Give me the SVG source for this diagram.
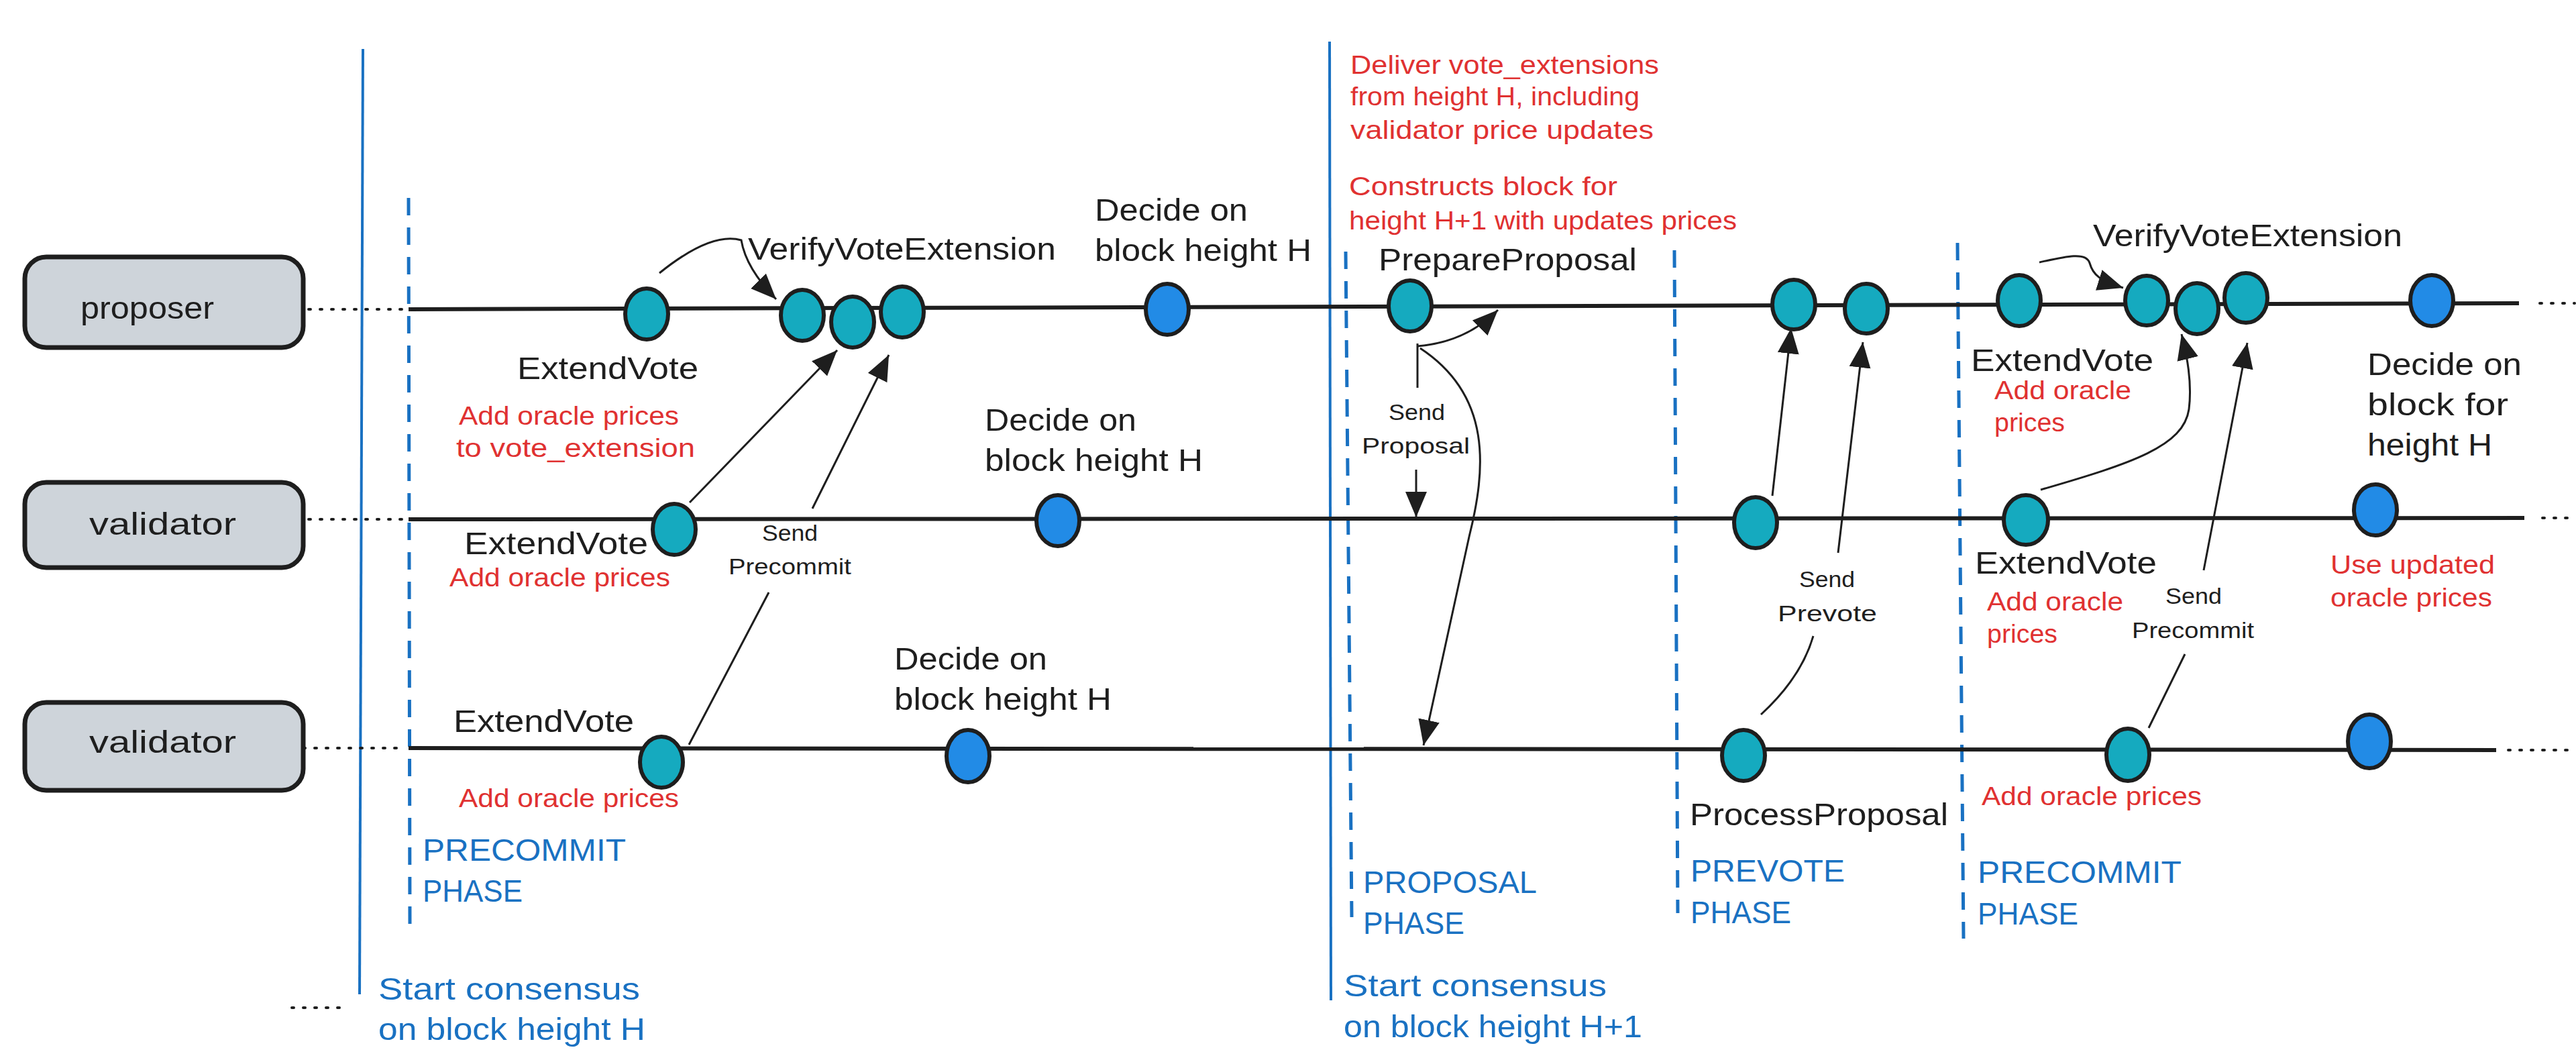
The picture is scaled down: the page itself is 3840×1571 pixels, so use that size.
<svg xmlns="http://www.w3.org/2000/svg" width="3840" height="1571" viewBox="0 0 3840 1571">
<defs>
<style>
text{font-family:"Liberation Sans","DejaVu Sans",sans-serif;}
.lane{fill:#ced4da;stroke:#1e1e1e;stroke-width:7;}
.lt{font-size:46px;fill:#1e1e1e;}
.bk{font-size:46px;fill:#1e1e1e;}
.sd{font-size:34px;fill:#1e1e1e;}
.rd{font-size:38px;fill:#e03131;}
.bl{font-size:46px;fill:#1971c2;}
.tl{fill:none;stroke:#1e1e1e;stroke-width:6;}
.dot{fill:none;stroke:#1e1e1e;stroke-width:4;stroke-dasharray:3 14;stroke-linecap:round;}
.vs{fill:none;stroke:#1971c2;stroke-width:4;}
.vd{fill:none;stroke:#1971c2;stroke-width:5;stroke-dasharray:26 18;}
.ev{fill:#15aabf;stroke:#1e1e1e;stroke-width:6;}
.dc{fill:#228be6;stroke:#1e1e1e;stroke-width:6;}
.ar{fill:none;stroke:#1e1e1e;stroke-width:3;marker-end:url(#ah);}
.ln{fill:none;stroke:#1e1e1e;stroke-width:3;}
</style>
<marker id="ah" viewBox="0 0 40 34" markerWidth="40" markerHeight="34" refX="38" refY="17" orient="auto" markerUnits="userSpaceOnUse">
<path d="M0,1 L38,17 L0,33 Z" fill="#1e1e1e"/>
</marker>
</defs>
<rect width="3840" height="1571" fill="#ffffff"/>

<g id="phase-lines">
<path class="vs" d="M541,73 L536,1482"/>
<path class="vs" d="M1982,62 L1984,1491"/>
<path class="vd" d="M609,295 L611,1377"/>
<path class="vd" d="M2006,375 L2015,1367"/>
<path class="vd" d="M2496,373 L2501,1361"/>
<path class="vd" d="M2918,362 L2927,1399"/>
</g>

<g id="timelines">
<path class="dot" d="M460,461 L604,461"/>
<path class="tl" d="M609,461 L3755,452"/>
<path class="dot" d="M3786,452 L3838,452"/>
<path class="dot" d="M460,774 L604,774"/>
<path class="tl" d="M609,774 L3763,772"/>
<path class="dot" d="M3790,772 L3840,772"/>
<path class="dot" d="M452,1115 L604,1115"/>
<path class="tl" d="M609,1115 L3721,1118"/>
<path class="dot" d="M3739,1118 L3838,1118"/>
<path class="dot" d="M435,1502 L518,1502"/>
</g>

<g id="lane-proposer">
<rect class="lane" x="37" y="383" width="415" height="135" rx="32"/>
<text class="lt" x="120" y="475" textLength="199" lengthAdjust="spacingAndGlyphs">proposer</text>
</g>
<g id="lane-validator-1">
<rect class="lane" x="37" y="719" width="415" height="127" rx="32"/>
<text class="lt" x="133" y="797" textLength="219" lengthAdjust="spacingAndGlyphs">validator</text>
</g>
<g id="lane-validator-2">
<rect class="lane" x="37" y="1047" width="415" height="131" rx="32"/>
<text class="lt" x="133" y="1122" textLength="219" lengthAdjust="spacingAndGlyphs">validator</text>
</g>

<g id="connectors">
<path class="ar" d="M983,407 Q1060,345 1105,358 Q1112,400 1157,446"/>
<path class="ar" d="M1028,749 L1248,522"/>
<path class="ar" d="M1027,1110 L1146,883 M1211,758 L1325,529"/>
<path class="ar" d="M2113,512 L2113,578 M2111,700 L2111,771"/>
<path class="ar" d="M2113,516 Q2185,510 2233,462"/>
<path class="ar" d="M2117,519 C2225,590 2215,700 2190,800 L2122,1111"/>
<path class="ar" d="M2642,739 L2670,489"/>
<path class="ar" d="M2625,1065 Q2685,1010 2703,948 M2740,824 L2777,510"/>
<path class="ar" d="M3040,391 C3080,382 3110,375 3115,392 C3120,410 3130,418 3165,429"/>
<path class="ar" d="M3042,730 C3180,690 3255,665 3263,610 C3268,570 3260,530 3252,498"/>
<path class="ar" d="M3203,1085 L3257,975 M3285,850 L3350,511"/>
</g>

<g id="proposer-events">
<g id="p-extendvote"><ellipse class="ev" cx="964" cy="468" rx="32" ry="38"/></g>
<g id="p-verify-1"><ellipse class="ev" cx="1196" cy="470" rx="32" ry="38"/></g>
<g id="p-verify-2"><ellipse class="ev" cx="1271" cy="480" rx="32" ry="38"/></g>
<g id="p-verify-3"><ellipse class="ev" cx="1345" cy="465" rx="32" ry="38"/></g>
<g id="p-decide-h"><ellipse class="dc" cx="1740" cy="461" rx="32" ry="38"/></g>
<g id="p-prepareproposal"><ellipse class="ev" cx="2102" cy="456" rx="32" ry="38"/></g>
<g id="p-prevote-1"><ellipse class="ev" cx="2674" cy="454" rx="32" ry="37"/></g>
<g id="p-prevote-2"><ellipse class="ev" cx="2782" cy="460" rx="32" ry="37"/></g>
<g id="p-extendvote-2"><ellipse class="ev" cx="3010" cy="448" rx="32" ry="38"/></g>
<g id="p-verify-4"><ellipse class="ev" cx="3200" cy="448" rx="32" ry="37"/></g>
<g id="p-verify-5"><ellipse class="ev" cx="3275" cy="460" rx="32" ry="38"/></g>
<g id="p-verify-6"><ellipse class="ev" cx="3348" cy="444" rx="32" ry="37"/></g>
<g id="p-decide-h1"><ellipse class="dc" cx="3625" cy="448" rx="32" ry="38"/></g>
</g>

<g id="validator1-events">
<g id="v1-extendvote"><ellipse class="ev" cx="1005" cy="789" rx="32" ry="38"/></g>
<g id="v1-decide-h"><ellipse class="dc" cx="1577" cy="776" rx="32" ry="38"/></g>
<g id="v1-prevote"><ellipse class="ev" cx="2617" cy="779" rx="32" ry="38"/></g>
<g id="v1-extendvote-2"><ellipse class="ev" cx="3020" cy="775" rx="33" ry="37"/></g>
<g id="v1-decide-h1"><ellipse class="dc" cx="3541" cy="760" rx="32" ry="38"/></g>
</g>

<g id="validator2-events">
<g id="v2-extendvote"><ellipse class="ev" cx="986" cy="1136" rx="32" ry="38"/></g>
<g id="v2-decide-h"><ellipse class="dc" cx="1443" cy="1127" rx="32" ry="39"/></g>
<g id="v2-processproposal"><ellipse class="ev" cx="2599" cy="1126" rx="32" ry="38"/></g>
<g id="v2-extendvote-2"><ellipse class="ev" cx="3172" cy="1125" rx="32" ry="39"/></g>
<g id="v2-decide-h1"><ellipse class="dc" cx="3532" cy="1105" rx="32" ry="40"/></g>
</g>

<g id="labels-black">
<text class="bk" x="1115" y="387" textLength="459" lengthAdjust="spacingAndGlyphs">VerifyVoteExtension</text>
<text class="bk" x="771" y="565" textLength="270" lengthAdjust="spacingAndGlyphs">ExtendVote</text>
<text class="bk" x="692" y="826" textLength="274" lengthAdjust="spacingAndGlyphs">ExtendVote</text>
<text class="bk" x="676" y="1091" textLength="269" lengthAdjust="spacingAndGlyphs">ExtendVote</text>
<text class="bk" x="1632" y="329" textLength="228" lengthAdjust="spacingAndGlyphs">Decide on</text>
<text class="bk" x="1632" y="389" textLength="323" lengthAdjust="spacingAndGlyphs">block height H</text>
<text class="bk" x="1468" y="642" textLength="226" lengthAdjust="spacingAndGlyphs">Decide on</text>
<text class="bk" x="1468" y="702" textLength="325" lengthAdjust="spacingAndGlyphs">block height H</text>
<text class="bk" x="1333" y="998" textLength="228" lengthAdjust="spacingAndGlyphs">Decide on</text>
<text class="bk" x="1333" y="1058" textLength="324" lengthAdjust="spacingAndGlyphs">block height H</text>
<text class="bk" x="2055" y="403" textLength="385" lengthAdjust="spacingAndGlyphs">PrepareProposal</text>
<text class="bk" x="2519" y="1230" textLength="385" lengthAdjust="spacingAndGlyphs">ProcessProposal</text>
<text class="bk" x="3120" y="367" textLength="461" lengthAdjust="spacingAndGlyphs">VerifyVoteExtension</text>
<text class="bk" x="2938" y="553" textLength="272" lengthAdjust="spacingAndGlyphs">ExtendVote</text>
<text class="bk" x="2944" y="855" textLength="271" lengthAdjust="spacingAndGlyphs">ExtendVote</text>
<text class="bk" x="3529" y="559" textLength="230" lengthAdjust="spacingAndGlyphs">Decide on</text>
<text class="bk" x="3529" y="619" textLength="210" lengthAdjust="spacingAndGlyphs">block for</text>
<text class="bk" x="3529" y="679" textLength="186" lengthAdjust="spacingAndGlyphs">height H</text>
</g>

<g id="labels-send">
<text class="sd" x="1136" y="806" textLength="83" lengthAdjust="spacingAndGlyphs">Send</text>
<text class="sd" x="1086" y="856" textLength="183" lengthAdjust="spacingAndGlyphs">Precommit</text>
<text class="sd" x="2070" y="626" textLength="84" lengthAdjust="spacingAndGlyphs">Send</text>
<text class="sd" x="2030" y="676" textLength="161" lengthAdjust="spacingAndGlyphs">Proposal</text>
<text class="sd" x="2682" y="875" textLength="83" lengthAdjust="spacingAndGlyphs">Send</text>
<text class="sd" x="2650" y="926" textLength="148" lengthAdjust="spacingAndGlyphs">Prevote</text>
<text class="sd" x="3228" y="900" textLength="84" lengthAdjust="spacingAndGlyphs">Send</text>
<text class="sd" x="3178" y="951" textLength="182" lengthAdjust="spacingAndGlyphs">Precommit</text>
</g>

<g id="labels-red">
<text class="rd" x="684" y="633" textLength="328" lengthAdjust="spacingAndGlyphs">Add oracle prices</text>
<text class="rd" x="680" y="681" textLength="356" lengthAdjust="spacingAndGlyphs">to vote_extension</text>
<text class="rd" x="670" y="874" textLength="329" lengthAdjust="spacingAndGlyphs">Add oracle prices</text>
<text class="rd" x="684" y="1203" textLength="328" lengthAdjust="spacingAndGlyphs">Add oracle prices</text>
<text class="rd" x="2013" y="110" textLength="460" lengthAdjust="spacingAndGlyphs">Deliver vote_extensions</text>
<text class="rd" x="2013" y="157" textLength="431" lengthAdjust="spacingAndGlyphs">from height H, including</text>
<text class="rd" x="2013" y="207" textLength="452" lengthAdjust="spacingAndGlyphs">validator price updates</text>
<text class="rd" x="2011" y="291" textLength="400" lengthAdjust="spacingAndGlyphs">Constructs block for</text>
<text class="rd" x="2011" y="342" textLength="578" lengthAdjust="spacingAndGlyphs">height H+1 with updates prices</text>
<text class="rd" x="2973" y="595" textLength="204" lengthAdjust="spacingAndGlyphs">Add oracle</text>
<text class="rd" x="2973" y="643" textLength="105" lengthAdjust="spacingAndGlyphs">prices</text>
<text class="rd" x="2962" y="910" textLength="203" lengthAdjust="spacingAndGlyphs">Add oracle</text>
<text class="rd" x="2962" y="958" textLength="105" lengthAdjust="spacingAndGlyphs">prices</text>
<text class="rd" x="3474" y="855" textLength="245" lengthAdjust="spacingAndGlyphs">Use updated</text>
<text class="rd" x="3474" y="904" textLength="241" lengthAdjust="spacingAndGlyphs">oracle prices</text>
<text class="rd" x="2954" y="1200" textLength="328" lengthAdjust="spacingAndGlyphs">Add oracle prices</text>
</g>

<g id="labels-blue">
<text class="bl" x="630" y="1283" textLength="303" lengthAdjust="spacingAndGlyphs">PRECOMMIT</text>
<text class="bl" x="630" y="1344" textLength="149" lengthAdjust="spacingAndGlyphs">PHASE</text>
<text class="bl" x="2032" y="1331" textLength="259" lengthAdjust="spacingAndGlyphs">PROPOSAL</text>
<text class="bl" x="2032" y="1392" textLength="151" lengthAdjust="spacingAndGlyphs">PHASE</text>
<text class="bl" x="2520" y="1314" textLength="230" lengthAdjust="spacingAndGlyphs">PREVOTE</text>
<text class="bl" x="2520" y="1376" textLength="150" lengthAdjust="spacingAndGlyphs">PHASE</text>
<text class="bl" x="2948" y="1316" textLength="304" lengthAdjust="spacingAndGlyphs">PRECOMMIT</text>
<text class="bl" x="2948" y="1378" textLength="150" lengthAdjust="spacingAndGlyphs">PHASE</text>
<text class="bl" x="564" y="1490" textLength="390" lengthAdjust="spacingAndGlyphs">Start consensus</text>
<text class="bl" x="564" y="1550" textLength="398" lengthAdjust="spacingAndGlyphs">on block height H</text>
<text class="bl" x="2003" y="1485" textLength="392" lengthAdjust="spacingAndGlyphs">Start consensus</text>
<text class="bl" x="2003" y="1546" textLength="445" lengthAdjust="spacingAndGlyphs">on block height H+1</text>
</g>
</svg>
